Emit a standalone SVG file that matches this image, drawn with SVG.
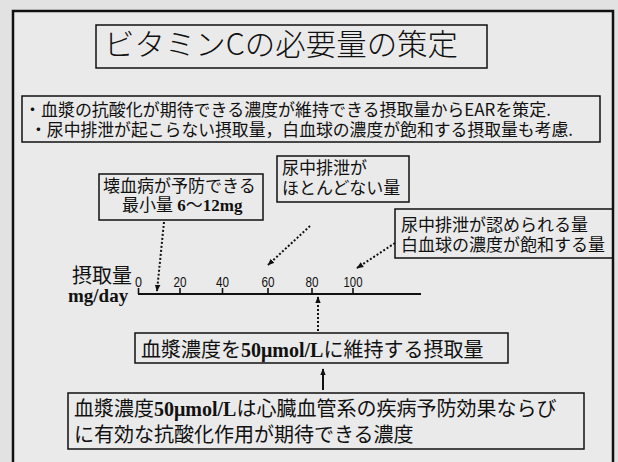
<svg xmlns="http://www.w3.org/2000/svg" width="618" height="462" viewBox="0 0 618 462">
<defs>
<marker id="ah" viewBox="0 0 10 10" refX="9" refY="5" markerWidth="7" markerHeight="7" markerUnits="userSpaceOnUse" orient="auto"><path d="M0,1 L10,5 L0,9 z" fill="#111"/></marker>
<style>
.box{fill:none;stroke:#111;stroke-width:1.5}
.jp{font-family:"Noto Sans CJK JP","Noto Sans",sans-serif;fill:#111}
.b{font-family:"Liberation Serif",serif;font-weight:bold}
.dot{stroke:#111;stroke-width:2;stroke-dasharray:2 2;fill:none}
.tick{font-family:"Liberation Sans",sans-serif;font-size:15px;text-anchor:middle;fill:#111}
</style>
</defs>
<rect width="618" height="462" fill="#e2e2e2"/>
<rect x="13" y="11" width="600" height="462" fill="#eaeaea" stroke="#111" stroke-width="2.5"/>

<g id="title">
<rect class="box" x="96" y="25" width="391" height="43"/>
<text class="jp" x="104" y="55" font-size="30" font-weight="300" textLength="354" lengthAdjust="spacingAndGlyphs">ビタミンCの必要量の策定</text>
</g>

<g id="bullets">
<rect class="box" x="22" y="96" width="578" height="46"/>
<text class="jp" font-size="17"><tspan x="24" y="115.5" textLength="527" lengthAdjust="spacingAndGlyphs">・血漿の抗酸化が期待できる濃度が維持できる摂取量からEARを策定.</tspan><tspan x="30" y="136" textLength="543" lengthAdjust="spacingAndGlyphs">・尿中排泄が起こらない摂取量，白血球の濃度が飽和する摂取量も考慮.</tspan></text>
</g>

<g id="scurvy">
<rect class="box" x="99" y="174" width="164" height="46"/>
<text class="jp" font-size="17"><tspan x="103" y="192">壊血病が予防できる</tspan><tspan x="122" y="210.5">最小量</tspan><tspan class="b"> 6</tspan><tspan>〜</tspan><tspan class="b">12mg</tspan></text>
</g>

<g id="little-urine">
<rect class="box" x="277" y="156" width="132" height="46"/>
<text class="jp" font-size="17"><tspan x="282" y="174">尿中排泄が</tspan><tspan x="282" y="193.5">ほとんどない量</tspan></text>
</g>

<g id="urine">
<rect class="box" x="395" y="209" width="218" height="49"/>
<text class="jp" font-size="17"><tspan x="401" y="230.5">尿中排泄が認められる量</tspan><tspan x="401" y="250.5">白血球の濃度が飽和する量</tspan></text>
</g>

<g id="axis">
<text font-size="20"><tspan class="jp" x="72" y="283">摂取量</tspan><tspan class="b" x="68" y="302" font-size="19" fill="#111">mg/day</tspan></text>
<line x1="138" y1="294" x2="421" y2="294" stroke="#111" stroke-width="2"/>
<g stroke="#111" stroke-width="1.6">
<line x1="138.5" y1="288" x2="138.5" y2="294"/>
<line x1="180" y1="288" x2="180" y2="294"/>
<line x1="222.5" y1="288" x2="222.5" y2="294"/>
<line x1="268" y1="288" x2="268" y2="294"/>
<line x1="312" y1="288" x2="312" y2="294"/>
<line x1="353" y1="288" x2="353" y2="294"/>
</g>
<text class="tick" x="138.5" y="287" textLength="7" lengthAdjust="spacingAndGlyphs">0</text>
<text class="tick" x="180" y="287" textLength="13" lengthAdjust="spacingAndGlyphs">20</text>
<text class="tick" x="222.5" y="287" textLength="13" lengthAdjust="spacingAndGlyphs">40</text>
<text class="tick" x="268" y="287" textLength="13" lengthAdjust="spacingAndGlyphs">60</text>
<text class="tick" x="312" y="287" textLength="13" lengthAdjust="spacingAndGlyphs">80</text>
<text class="tick" x="353" y="287" textLength="19" lengthAdjust="spacingAndGlyphs">100</text>
</g>

<g id="maintain">
<rect class="box" x="135" y="333" width="373" height="30"/>
<text class="jp" x="141" y="356.5" font-size="20">血漿濃度を<tspan class="b">50μmol/L</tspan>に維持する摂取量</text>
</g>

<g id="reason">
<rect class="box" x="68" y="393" width="516" height="56"/>
<text class="jp" font-size="20"><tspan x="74" y="416">血漿濃度</tspan><tspan class="b">50μmol/L</tspan><tspan>は心臓血管系の疾病予防効果ならび</tspan><tspan x="74" y="442">に有効な抗酸化作用が期待できる濃度</tspan></text>
</g>

<g id="connectors">
<line class="dot" x1="164" y1="222" x2="157" y2="291" marker-end="url(#ah)"/>
<line class="dot" x1="310" y1="226" x2="268" y2="265" marker-end="url(#ah)"/>
<line class="dot" x1="395" y1="243" x2="357" y2="268" marker-end="url(#ah)"/>
<line class="dot" x1="318" y1="331" x2="318" y2="297" marker-end="url(#ah)"/>
<line x1="323" y1="390" x2="323" y2="369" stroke="#111" stroke-width="2" marker-end="url(#ah)"/>
</g>
</svg>
